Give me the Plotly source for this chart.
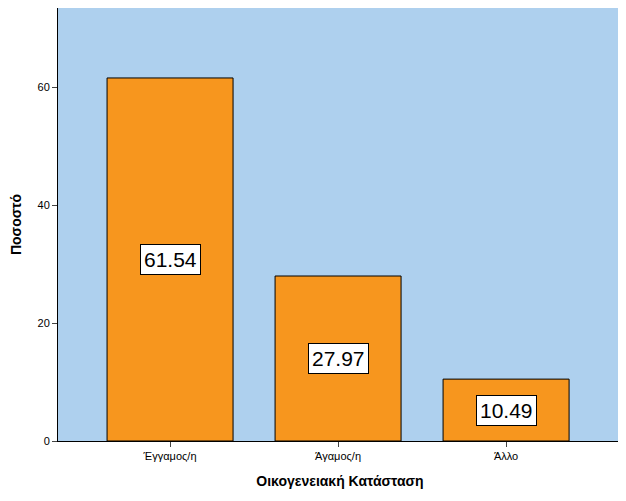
import plotly.graph_objects as go

categories = ["Έγγαμος/η", "Άγαμος/η", "Άλλο"]
values = [61.54, 27.97, 10.49]
y_ticks = [0, 20, 40, 60]

fig = go.Figure()
fig.add_trace(go.Bar(
    x=list(range(len(categories))), y=values, width=0.75,
    marker=dict(color="#F7961E", line=dict(color="black", width=1)),
    showlegend=False, hoverinfo="skip",
))

for i, v in enumerate(values):
    fig.add_annotation(
        x=i, y=v / 2, text=f"{v:.2f}", showarrow=False,
        font=dict(size=21, color="black", family="Arial"),
        bgcolor="white", bordercolor="black", borderwidth=1, borderpad=3,
    )

fig.update_layout(
    width=618, height=493,
    margin=dict(l=50, r=4, t=0, b=60),
    plot_bgcolor="#AED0EE", paper_bgcolor="white",
    font=dict(family="Arial", color="black"),
    xaxis=dict(
        range=[-0.667, 2.69], tickvals=list(range(len(categories))), ticktext=categories,
        ticks="outside", ticklen=5, tickfont=dict(size=11),
        showline=True, linecolor="black", mirror=True, showgrid=False, zeroline=False,
        title=dict(text="<b>Οικογενειακή Κατάσταση</b>", font=dict(size=14), standoff=14),
    ),
    yaxis=dict(
        range=[0, 73.4], tickvals=y_ticks, ticks="outside", ticklen=5, tickfont=dict(size=11),
        showline=True, linecolor="black", mirror=True, showgrid=False, zeroline=False,
        title=dict(text="<b>Ποσοστό</b>", font=dict(size=14), standoff=14),
    ),
)

fig.write_html("out.html")
